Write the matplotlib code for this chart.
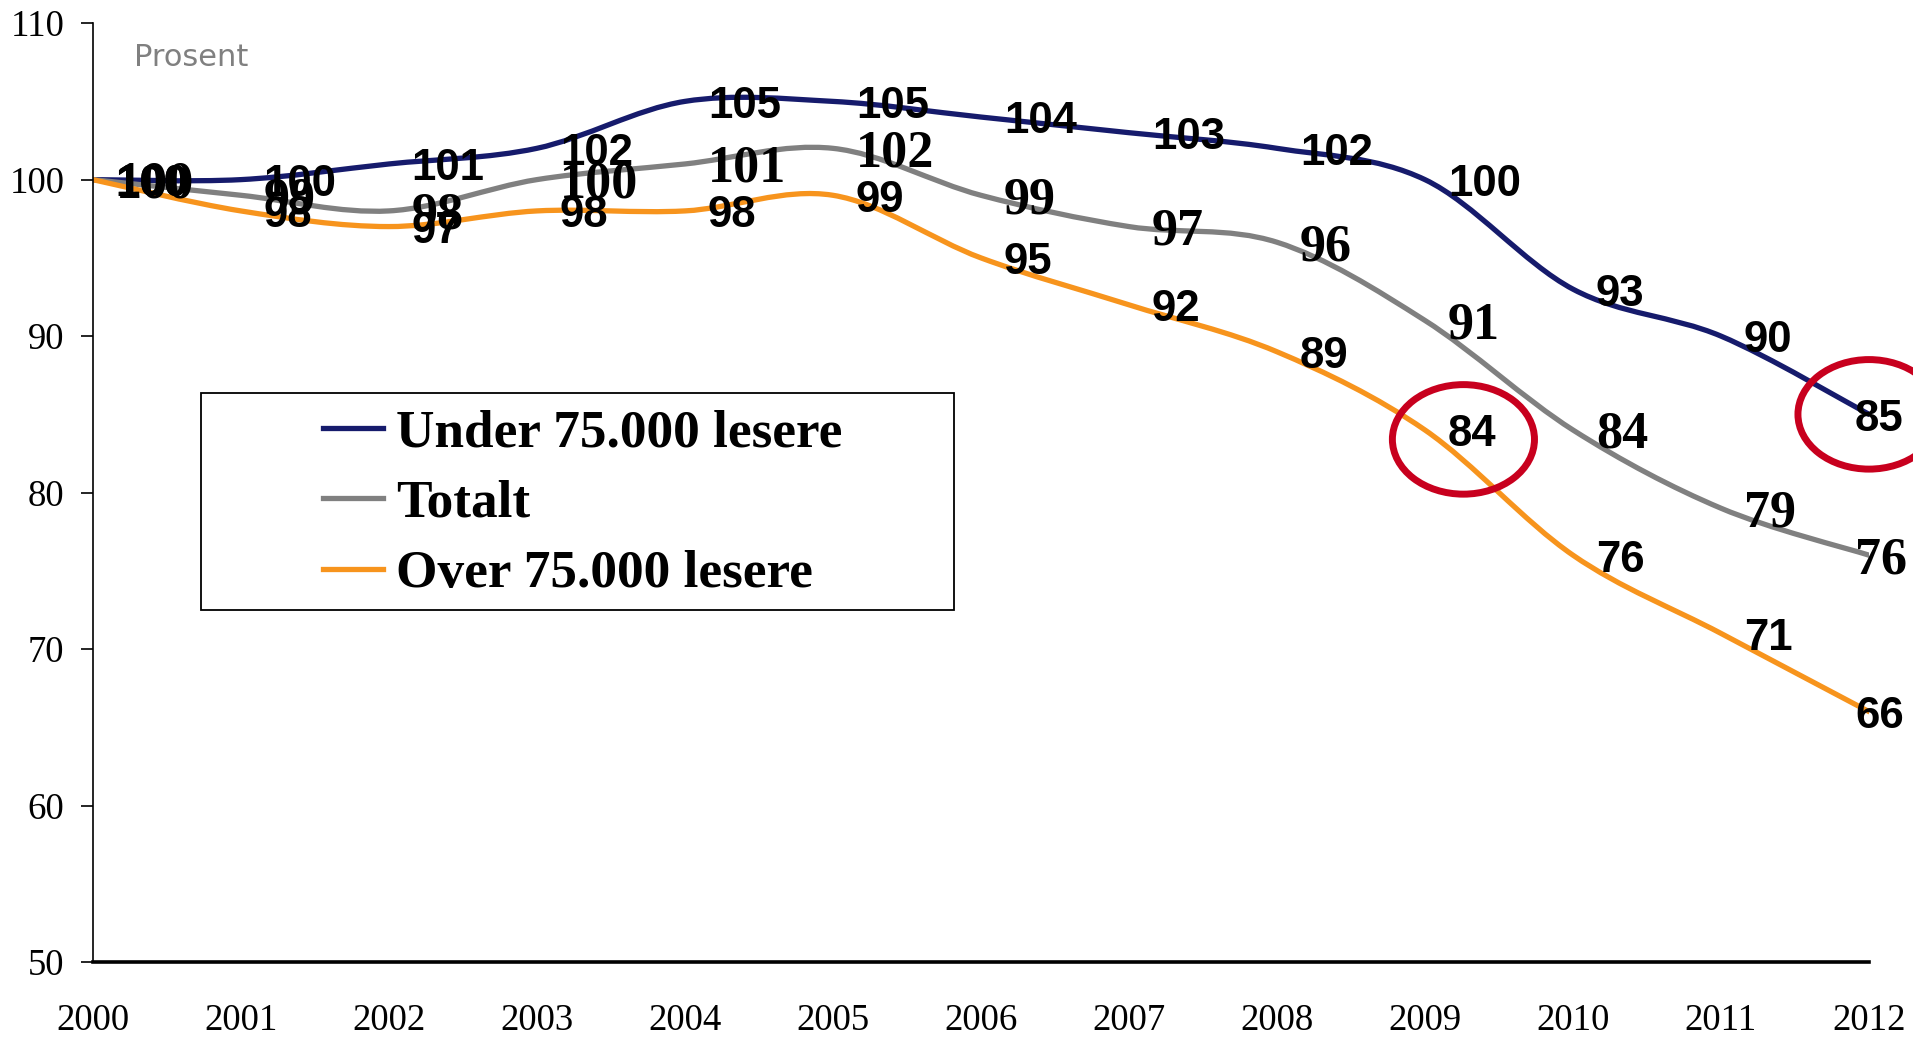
import numpy as np
import matplotlib.pyplot as plt
from matplotlib.path import Path
from matplotlib.patches import PathPatch, Ellipse, Rectangle
from matplotlib.lines import Line2D

# data (index, 2000 = 100)
years = list(range(2000, 2013))
under_75k = [100, 100, 101, 102, 105, 105, 104, 103, 102, 100, 93, 90, 85]
totalt = [100, 99, 98, 100, 101, 102, 99, 97, 96, 91, 84, 79, 76]
over_75k = [100, 98, 97, 98, 98, 99, 95, 92, 89, 84, 76, 71, 66]
series_names = ['Under 75.000 lesere', 'Totalt', 'Over 75.000 lesere']
y_ticks = [50, 60, 70, 80, 90, 100, 110]

SERIF = 'Liberation Serif'
SANS = 'Liberation Sans'
colors = ['#161B6C', '#808080', '#F7941D']
label_fonts = [(SANS, 31.5), (SERIF, 37.5), (SANS, 31.5)]


def smooth_path(x, y):
    # excel style smoothed line: cubic bezier through every point
    x = np.asarray(x, float)
    y = np.asarray(y, float)
    n = len(x)
    verts = [(x[0], y[0])]
    codes = [Path.MOVETO]
    for i in range(n - 1):
        i0 = max(i - 1, 0)
        i3 = min(i + 2, n - 1)
        c1 = (x[i] + (x[i + 1] - x[i0]) / 6, y[i] + (y[i + 1] - y[i0]) / 6)
        c2 = (x[i + 1] - (x[i3] - x[i]) / 6, y[i + 1] - (y[i3] - y[i]) / 6)
        verts += [c1, c2, (x[i + 1], y[i + 1])]
        codes += [Path.CURVE4] * 3
    return Path(verts, codes)


fig = plt.figure(figsize=(19.13, 10.38), dpi=100)
ax = fig.add_axes([0.0485, 0.0732, 0.9285, 0.9045])

all_series = [under_75k, totalt, over_75k]
for k in [1, 2, 0]:
    vals = all_series[k]
    ax.add_patch(PathPatch(smooth_path(years, vals), fill=False,
                           edgecolor=colors[k], lw=3.8, capstyle='round',
                           joinstyle='round', zorder=2 + k * 0.1))

# data labels, right of the point (last one pulled inside)
for k, vals in enumerate(all_series):
    fam, fs = label_fonts[k]
    for i, (x, v) in enumerate(zip(years, vals)):
        dx = -10 if i == len(years) - 1 else 16.5
        ax.annotate(str(v), (x, v), xytext=(dx, -3.5), textcoords='offset points',
                    ha='left', va='center', fontsize=fs, fontweight='bold',
                    family=fam, color='black', zorder=5, annotation_clip=False)

# red rings
ax.add_patch(Ellipse((years[9] + 0.26, over_75k[9] - 0.6), 0.96, 7.0, fill=False,
                     edgecolor='#C8001E', lw=5, clip_on=False, zorder=6))
ax.add_patch(Ellipse((years[12], under_75k[12]), 0.96, 7.0, fill=False,
                     edgecolor='#C8001E', lw=5, clip_on=False, zorder=6))

ax.set_xlim(2000, 2012)
ax.set_ylim(50, 110)
ax.set_xticks(years)
ax.set_xticklabels([str(y) for y in years], family=SERIF, fontsize=26.5)
ax.set_yticks(y_ticks)
ax.set_yticklabels([str(t) for t in y_ticks], family=SERIF, fontsize=26.5)
ax.tick_params(axis='x', length=0, pad=30)
ax.tick_params(axis='y', length=8.5, width=1.2, pad=12, direction='out')
for s in ['top', 'right']:
    ax.spines[s].set_visible(False)
ax.spines['left'].set_linewidth(1.2)
ax.spines['bottom'].set_linewidth(2.6)

ax.text(0.0233, 0.9638, 'Prosent', transform=ax.transAxes, ha='left', va='center',
        fontsize=22, color='#808080', family='DejaVu Sans')

# legend with a plain box
ax.add_patch(Rectangle((0.061, 0.375), 0.424, 0.231, transform=ax.transAxes,
                       facecolor='white', edgecolor='black', lw=1.3, zorder=7))
handles = [Line2D([], [], color=c, lw=3.8) for c in colors]
leg = ax.legend(handles, series_names, loc='upper left', bbox_to_anchor=(0.1297, 0.589),
                frameon=False, borderpad=0, borderaxespad=0, handlelength=1.12,
                handletextpad=0.25, labelspacing=0.42,
                prop={'family': SERIF, 'weight': 'bold', 'size': 38.3})
leg.set_zorder(8)

fig.savefig('out.png', dpi=100)
